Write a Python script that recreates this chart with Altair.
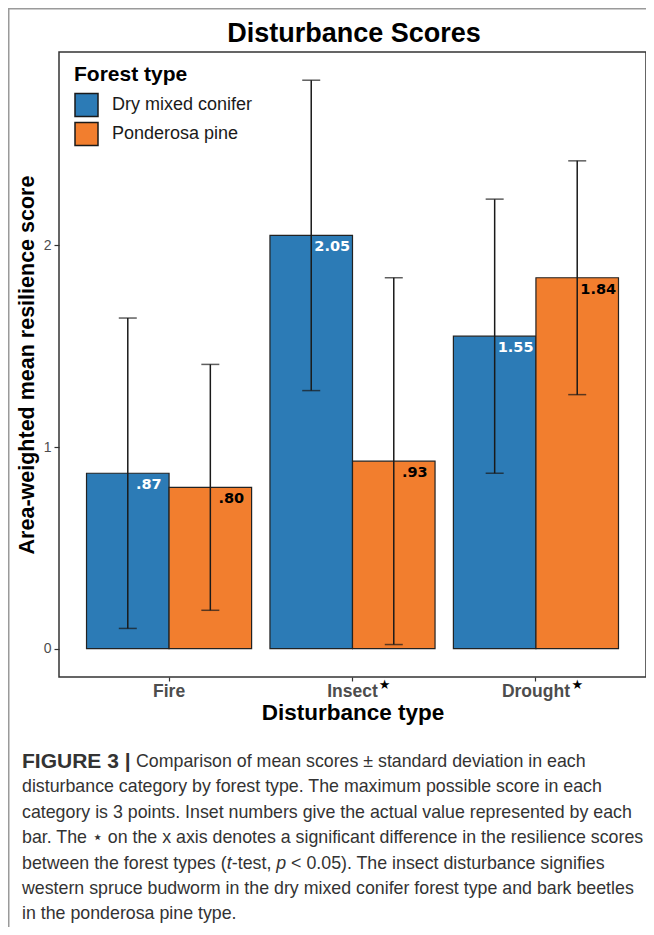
import altair as alt
import pandas as pd

# ---------------- data ----------------
categories = ["Fire", "Insect", "Drought"]
forest_types = ["Dry mixed conifer", "Ponderosa pine"]
dmc_mean = [0.87, 2.05, 1.55]
dmc_sd = [0.77, 0.77, 0.68]
pp_mean = [0.80, 0.93, 1.84]
pp_sd = [0.61, 0.91, 0.58]
dmc_labels = [".87", "2.05", "1.55"]
pp_labels = [".80", ".93", "1.84"]
significant = ["Insect", "Drought"]
colors = ["#2c7bb6", "#f27e2e"]
y_ticks = [0, 1, 2]

caption_lines = [
    "Comparison of mean scores \u00b1 standard deviation in each",
    "disturbance category by forest type. The maximum possible score in each",
    "category is 3 points. Inset numbers give the actual value represented by each",
    "bar. The \u22c6 on the x axis denotes a significant difference in the resilience scores",
    None,
    "western spruce budworm in the dry mixed conifer forest type and bark beetles",
    "in the ponderosa pine type.",
]

rows = []
for ft, means, sds, labs in [(forest_types[0], dmc_mean, dmc_sd, dmc_labels),
                             (forest_types[1], pp_mean, pp_sd, pp_labels)]:
    for c, m, s, l in zip(categories, means, sds, labs):
        rows.append(dict(disturbance=c, forest=ft, mean=m, lo=m - s, hi=m + s, label=l))
df = pd.DataFrame(rows)

W, H = 587, 625
FONT = "Liberation Sans"

x_enc = alt.X("disturbance:N", sort=categories,
              scale=alt.Scale(paddingInner=0.1, paddingOuter=0.15),
              axis=alt.Axis(title="Disturbance type", labelAngle=0, labelFontSize=17.5,
                            labelFontWeight="bold", labelColor="#4d4d4d", labelPadding=1,
                            tickSize=4, tickColor="#333333", tickWidth=1.2, domain=False,
                            grid=False, titleFontSize=22.5, titleFontWeight="bold",
                            titleColor="black", titlePadding=2, labelFont=FONT, titleFont=FONT))
xo_enc = alt.XOffset("forest:N", sort=forest_types,
                     scale=alt.Scale(paddingInner=0, paddingOuter=0))
y_scale = alt.Scale(domain=[-0.141, 2.96], nice=False, zero=False)

base = alt.Chart(df)

bars = base.mark_bar(stroke="#222222", strokeWidth=1.2).encode(
    x=x_enc, xOffset=xo_enc,
    y=alt.Y("mean:Q", scale=y_scale,
            axis=alt.Axis(values=y_ticks, format="d",
                          title="Area-weighted mean resilience score",
                          titleFontSize=21.5, titleFontWeight="bold", titleColor="black",
                          labelFontSize=14, labelColor="#4d4d4d", tickSize=5,
                          tickColor="#333333", tickWidth=1.2, labelPadding=3,
                          domain=False, grid=False, titlePadding=5,
                          labelFont=FONT, titleFont=FONT)),
    y2=alt.datum(0),
    color=alt.Color("forest:N", scale=alt.Scale(domain=forest_types, range=colors),
                    legend=alt.Legend(title="Forest type", orient="none", legendX=15,
                                      legendY=11.5, titleFontSize=21, titleFontWeight="bold",
                                      titleColor="black", titleFont=FONT, labelFont=FONT,
                                      labelFontSize=18, labelColor="#1a1a1a",
                                      symbolType="square", symbolSize=529,
                                      symbolStrokeColor="#1a1a1a", symbolStrokeWidth=1.5,
                                      symbolOpacity=1, labelOffset=13, rowPadding=0,
                                      titlePadding=8, padding=0, direction="vertical")),
)

err = base.mark_rule(color="#1a1a1a", strokeWidth=1.5).encode(
    x=x_enc, xOffset=xo_enc, y=alt.Y("lo:Q", scale=y_scale), y2="hi:Q")
cap_lo = base.mark_tick(color="#1a1a1a", thickness=1.5, size=18).encode(
    x=x_enc, xOffset=xo_enc, y=alt.Y("lo:Q", scale=y_scale))
cap_hi = base.mark_tick(color="#1a1a1a", thickness=1.5, size=18).encode(
    x=x_enc, xOffset=xo_enc, y=alt.Y("hi:Q", scale=y_scale))

vals = base.mark_text(font="DejaVu Sans", fontWeight="bold", fontSize=14.5, dx=21, dy=12,
                      baseline="middle", align="center").encode(
    x=x_enc, xOffset=xo_enc, y=alt.Y("mean:Q", scale=y_scale), text="label:N",
    color=alt.condition(alt.datum.forest == forest_types[0], alt.value("white"),
                        alt.value("black")))

layers = [bars, err, cap_lo, cap_hi, vals]

star_dx = {"Insect": 32, "Drought": 41.5}
for cat in significant:
    layers.append(
        alt.Chart(pd.DataFrame({"disturbance": [cat]})).mark_text(
            text="\u2605", fontSize=13, color="black", baseline="middle", align="center",
            dx=star_dx[cat], font="DejaVu Sans").encode(
            x=alt.X("disturbance:N", sort=categories), y=alt.value(632.5)))

one = pd.DataFrame({"k": [0]})


def txt(t, x, y, size=17.8, weight="normal", style="normal", color="#333333",
        align="left", baseline="middle", font=FONT):
    return alt.Chart(one).mark_text(text=t, fontSize=size, fontWeight=weight,
                                    fontStyle=style, color=color, align=align,
                                    baseline=baseline, font=font).encode(
        x=alt.value(x), y=alt.value(y))


# chart title
layers.append(txt("Disturbance Scores", 295, -10.3, size=27, weight="bold",
                  color="black", align="center", baseline="alphabetic"))

# caption
cx = -37
y0 = 710
lh = 25.4
layers.append(txt("FIGURE 3 |", cx, y0, size=21, weight="bold", color="#333333"))
for i, line in enumerate(caption_lines):
    if line is None:
        continue
    x = cx + 114 if i == 0 else cx
    layers.append(txt(line, x, y0 + i * lh))
# line 5 with italics
y5 = y0 + 4 * lh
layers.append(txt("between the forest types (", cx, y5))
layers.append(txt("t", cx + 204.8, y5, style="italic"))
layers.append(txt("-test,", cx + 209.8, y5))
layers.append(txt("p", cx + 254.3, y5, style="italic"))
layers.append(txt("< 0.05). The insect disturbance signifies", cx + 269.1, y5))

# outer frame lines (top and left)
layers.append(alt.Chart(one).mark_rule(color="#9a9a9a", strokeWidth=1.5).encode(
    x=alt.value(-51), x2=alt.value(W), y=alt.value(-43.25)))
layers.append(alt.Chart(one).mark_rule(color="#9a9a9a", strokeWidth=1.5).encode(
    x=alt.value(-50.25), y=alt.value(-44), y2=alt.value(880)))

chart = alt.layer(*layers).properties(
    width=W, height=H,
    autosize=alt.AutoSizeParams(type="none"),
    padding={"left": 51, "top": 44, "right": 0, "bottom": 250},
).configure(
    font=FONT,
    view=alt.ViewConfig(stroke="#333333", strokeWidth=1.5),
)

chart.save("out.html", embed_options={"renderer": "svg", "actions": False})
